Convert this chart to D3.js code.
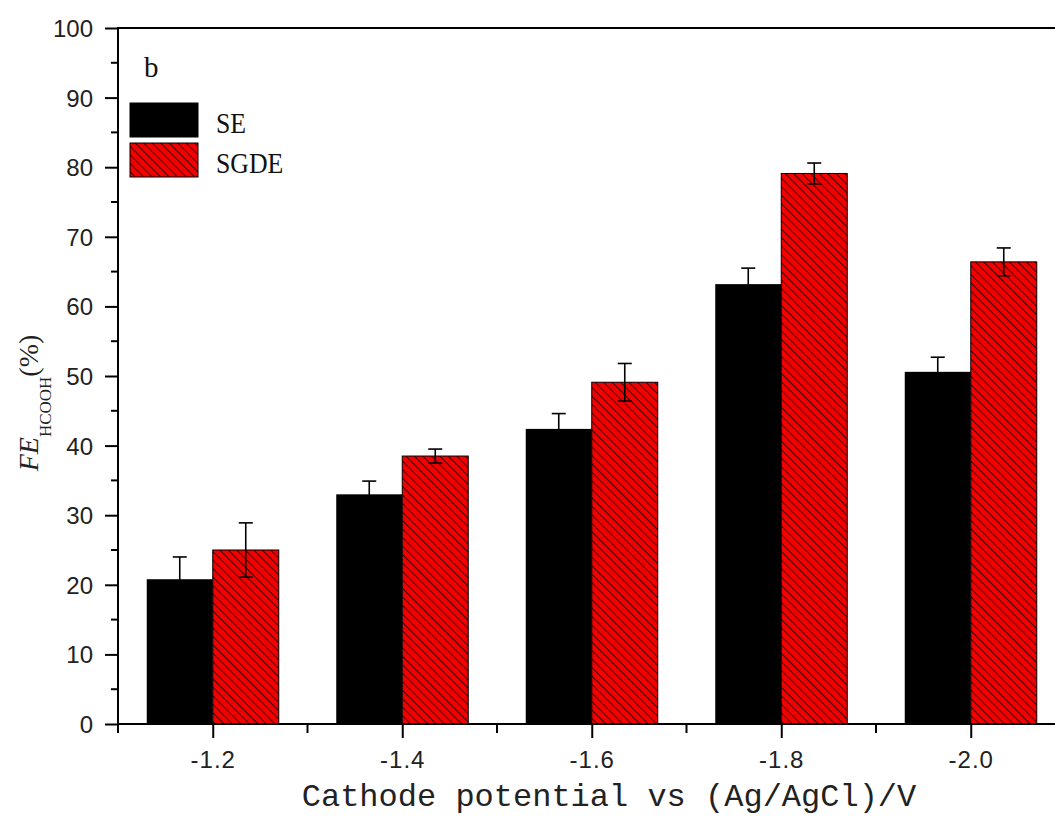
<!DOCTYPE html>
<html>
<head>
<meta charset="utf-8">
<script src="https://cdn.jsdelivr.net/npm/d3@7/dist/d3.min.js"></script>
<style>
  html, body { margin: 0; padding: 0; background: #fff; }
  svg { display: block; }
</style>
</head>
<body>
<svg id="chart" width="1055" height="818"></svg>
<script>
// Faradaic efficiency for formate at each cathode potential
const potentials = [-1.2, -1.4, -1.6, -1.8, -2.0];
const tickLabels = ["-1.2", "-1.4", "-1.6", "-1.8", "-2.0"];
const seValues   = [20.8, 33.0, 42.4, 63.2, 50.6];
const seErrors   = [3.2, 1.9, 2.2, 2.3, 2.1];
const sgdeValues = [25.0, 38.5, 49.1, 79.1, 66.4];
const sgdeErrors = [3.9, 1.0, 2.7, 1.5, 2.0];
const seriesNames = ["SE", "SGDE"];
const yTicks = [0, 10, 20, 30, 40, 50, 60, 70, 80, 90, 100];

const svg = d3.select("#chart");
const plotLeft = 118, plotTop = 28, plotBottom = 724;

const x = d3.scaleLinear().domain([-1.1, -2.1]).range([plotLeft, plotLeft + 5 * 189.5]);
const y = d3.scaleLinear().domain([0, 100]).range([plotBottom, plotTop]);
const barW = 66;

// diagonal hatch for the SGDE bars
const defs = svg.append("defs");
const hatchStep = 6;
const pat = defs.append("pattern")
  .attr("id", "hatch")
  .attr("patternUnits", "userSpaceOnUse")
  .attr("width", hatchStep).attr("height", 10)
  .attr("patternTransform", "rotate(-45)");
pat.append("rect").attr("width", hatchStep).attr("height", 10).attr("fill", "#f20000");
pat.append("line").attr("x1", 0.5).attr("x2", 0.5).attr("y1", 0).attr("y2", 10)
  .attr("stroke", "#400000").attr("stroke-width", 1);

const rows = potentials.map((p, i) => ({
  p, se: seValues[i], seErr: seErrors[i], sgde: sgdeValues[i], sgdeErr: sgdeErrors[i]
}));

// bars
const g = svg.append("g");
g.selectAll("rect.se").data(rows).join("rect")
  .attr("class", "se")
  .attr("x", d => x(d.p) - barW).attr("width", barW)
  .attr("y", d => y(d.se)).attr("height", d => y(0) - y(d.se))
  .attr("fill", "#000");
g.selectAll("rect.sgde").data(rows).join("rect")
  .attr("class", "sgde")
  .attr("x", d => x(d.p)).attr("width", barW)
  .attr("y", d => y(d.sgde)).attr("height", d => y(0) - y(d.sgde))
  .attr("fill", "url(#hatch)").attr("stroke", "#000").attr("stroke-width", 1);

// error bars
function errorBars(cls, valKey, errKey, dx) {
  const eg = g.selectAll("g." + cls).data(rows).join("g").attr("class", cls)
    .attr("stroke", "#000").attr("stroke-width", 1.6);
  eg.append("line")
    .attr("x1", d => x(d.p) + dx).attr("x2", d => x(d.p) + dx)
    .attr("y1", d => y(d[valKey] - d[errKey])).attr("y2", d => y(d[valKey] + d[errKey]));
  eg.append("line")
    .attr("x1", d => x(d.p) + dx - 7).attr("x2", d => x(d.p) + dx + 7)
    .attr("y1", d => y(d[valKey] + d[errKey])).attr("y2", d => y(d[valKey] + d[errKey]));
  eg.append("line")
    .attr("x1", d => x(d.p) + dx - 7).attr("x2", d => x(d.p) + dx + 7)
    .attr("y1", d => y(d[valKey] - d[errKey])).attr("y2", d => y(d[valKey] - d[errKey]));
}
errorBars("se-err", "se", "seErr", -barW / 2);
errorBars("sgde-err", "sgde", "sgdeErr", barW / 2);

// y axis
const yAxis = d3.axisLeft(y).tickValues(yTicks).tickSize(13).tickPadding(12).tickFormat(d3.format("d"));
const ya = svg.append("g").attr("transform", `translate(${plotLeft},0)`).call(yAxis);
ya.select(".domain").remove();
ya.selectAll(".tick line").attr("stroke", "#000").attr("stroke-width", 2);
ya.selectAll(".tick text").attr("font-family", "Liberation Sans, Arial, sans-serif")
  .attr("font-size", 24).attr("fill", "#222").attr("dy", "0.35em");
const yMinor = d3.range(5, 100, 10);
svg.append("g").selectAll("line").data(yMinor).join("line")
  .attr("x1", plotLeft - 7).attr("x2", plotLeft).attr("y1", d => y(d)).attr("y2", d => y(d))
  .attr("stroke", "#000").attr("stroke-width", 2);

// x axis
const xAxis = d3.axisBottom(x).tickValues(potentials).tickSize(14).tickPadding(13)
  .tickFormat((d, i) => tickLabels[i]);
const xa = svg.append("g").attr("transform", `translate(0,${plotBottom})`).call(xAxis);
xa.select(".domain").remove();
xa.selectAll(".tick line").attr("stroke", "#000").attr("stroke-width", 2);
xa.selectAll(".tick text").attr("font-family", "Liberation Sans, Arial, sans-serif")
  .attr("font-size", 24).attr("fill", "#222").attr("letter-spacing", "1px");
const xMinor = [-1.1, -1.3, -1.5, -1.7, -1.9, -2.1];
svg.append("g").selectAll("line").data(xMinor).join("line")
  .attr("x1", d => x(d)).attr("x2", d => x(d)).attr("y1", plotBottom).attr("y2", plotBottom + 9)
  .attr("stroke", "#000").attr("stroke-width", 2);

// frame
svg.append("rect")
  .attr("x", plotLeft).attr("y", plotTop)
  .attr("width", x(-2.1) - plotLeft).attr("height", plotBottom - plotTop)
  .attr("fill", "none").attr("stroke", "#000").attr("stroke-width", 2);

// panel label
svg.append("text").attr("x", 144).attr("y", 77)
  .attr("font-family", "Liberation Serif, Times New Roman, serif")
  .attr("font-size", 29).attr("fill", "#111").text("b");

// legend
const legend = svg.append("g");
const legFill = ["#000", "url(#hatch)"];
seriesNames.forEach((name, i) => {
  const yy = 103 + i * 40;
  legend.append("rect").attr("x", 130).attr("y", yy).attr("width", 68).attr("height", 34)
    .attr("fill", legFill[i]).attr("stroke", "#000").attr("stroke-width", 1);
  legend.append("text").attr("x", 216).attr("y", yy + 30)
    .attr("font-family", "Liberation Serif, Times New Roman, serif")
    .attr("font-size", 30).attr("fill", "#111")
    .attr("transform", `translate(216,0) scale(0.86,1) translate(-216,0)`)
    .text(name);
});

// axis titles
svg.append("text").attr("x", 609).attr("y", 806)
  .attr("text-anchor", "middle")
  .attr("font-family", "Liberation Mono, Courier New, monospace")
  .attr("font-size", 32).attr("fill", "#222")
  .text("Cathode potential vs (Ag/AgCl)/V");

const yt = svg.append("text")
  .attr("transform", "translate(38,403) rotate(-90)")
  .attr("text-anchor", "middle")
  .attr("font-family", "Liberation Serif, Times New Roman, serif")
  .attr("fill", "#222");
yt.append("tspan").attr("font-style", "italic").attr("font-size", 28).text("FE");
yt.append("tspan").attr("font-size", 17).attr("dy", 13).text("HCOOH");
yt.append("tspan").attr("font-size", 28).attr("dy", -13).text("(%)");
</script>
</body>
</html>
